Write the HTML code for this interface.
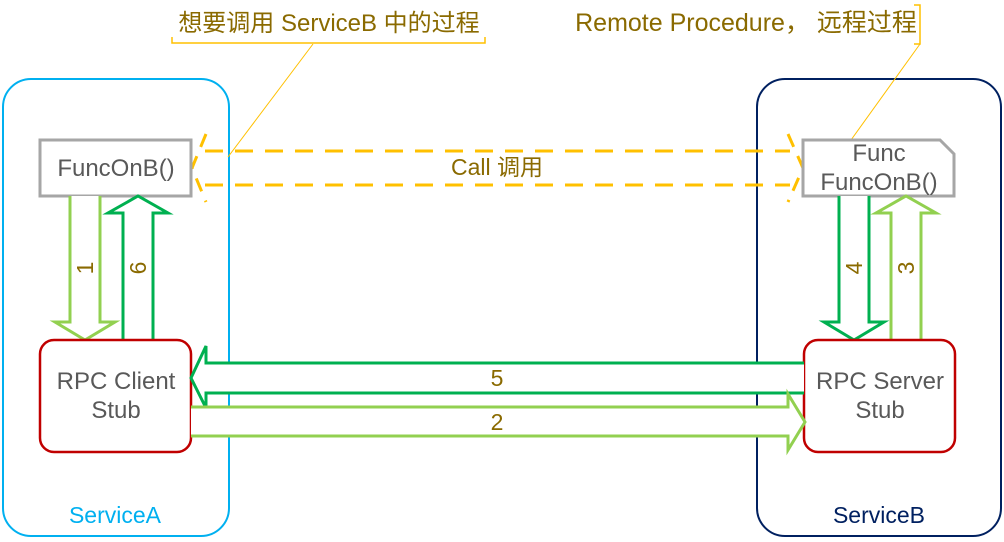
<!DOCTYPE html>
<html><head><meta charset="utf-8"><style>
html,body{margin:0;padding:0;background:#fff;}
svg{display:block;}
text{font-family:"Liberation Sans","Noto Sans CJK SC",sans-serif;}
</style></head><body>
<svg width="1004" height="542" viewBox="0 0 1004 542" xmlns="http://www.w3.org/2000/svg">
<rect x="3" y="79" width="226" height="457" rx="28" fill="none" stroke="#00b0f0" stroke-width="2"/>
<rect x="757" y="79" width="244" height="457" rx="28" fill="none" stroke="#002060" stroke-width="2"/>
<text x="115" y="523" font-size="23" fill="#00b0f0" text-anchor="middle">ServiceA</text>
<text x="879" y="523" font-size="23" fill="#002060" text-anchor="middle">ServiceB</text>

<text x="329" y="31" font-size="24" fill="#8a6a00" text-anchor="middle">想要调用 ServiceB 中的过程</text>
<path d="M172 37 V43 H485 V37" fill="none" stroke="#ffc000" stroke-width="1.5"/>
<line x1="313" y1="44" x2="228" y2="157" stroke="#ffc000" stroke-width="1"/>
<text x="746" y="31" font-size="25" fill="#8a6a00" text-anchor="middle">Remote Procedure， 远程过程</text>
<path d="M914 5 H920 V44 H914" fill="none" stroke="#ffc000" stroke-width="1.5"/>
<line x1="920" y1="44" x2="851" y2="140" stroke="#ffc000" stroke-width="1"/>

<g stroke="#ffc000" stroke-width="3" fill="none" stroke-dasharray="18 12">
<line x1="205" y1="151" x2="790" y2="151"/>
<line x1="205" y1="185" x2="790" y2="185"/>
</g>
<g stroke="#ffc000" stroke-width="3" fill="none" stroke-dasharray="14 10">
<path d="M206 134 L192 168 L206 202"/>
<path d="M788 134 L803 168 L788 202"/>
</g>
<text x="497" y="175" font-size="23" fill="#8a6a00" text-anchor="middle">Call  调用</text>

<rect x="40" y="140" width="151" height="56" fill="#fff" stroke="#a6a6a6" stroke-width="3"/>
<text x="116" y="176" font-size="24" fill="#595959" text-anchor="middle">FuncOnB()</text>
<path d="M803 140 H940 L954 154 V196 H803 Z" fill="#fff" stroke="#a6a6a6" stroke-width="3"/>
<text x="879" y="161" font-size="24" fill="#595959" text-anchor="middle">Func</text>
<text x="879" y="190" font-size="24" fill="#595959" text-anchor="middle">FuncOnB()</text>

<path d="M70 196 V322 H55 L85 340 L115 322 H100 V196" fill="#fff" stroke="#92d050" stroke-width="3"/>
<path d="M123 340 V213 H108 L138 196 L168 213 H153 V340" fill="#fff" stroke="#00b050" stroke-width="3"/>
<path d="M839 196 V322 H824 L854 340 L884 322 H869 V196" fill="#fff" stroke="#00b050" stroke-width="3"/>
<path d="M891 340 V213 H876 L906 196 L936 213 H921 V340" fill="#fff" stroke="#92d050" stroke-width="3"/>
<g font-size="23" fill="#8a6a00" text-anchor="middle">
<text transform="translate(93 268) rotate(-90)">1</text>
<text transform="translate(146 268) rotate(-90)">6</text>
<text transform="translate(862 268) rotate(-90)">4</text>
<text transform="translate(914 268) rotate(-90)">3</text>
</g>

<rect x="40" y="340" width="151" height="112" rx="14" fill="#fff" stroke="#c00000" stroke-width="2.5"/>
<text x="116" y="389" font-size="24" fill="#595959" text-anchor="middle">RPC Client</text>
<text x="116" y="418" font-size="24" fill="#595959" text-anchor="middle">Stub</text>
<rect x="804" y="340" width="151" height="112" rx="14" fill="#fff" stroke="#c00000" stroke-width="2.5"/>
<text x="880" y="389" font-size="24" fill="#595959" text-anchor="middle">RPC Server</text>
<text x="880" y="418" font-size="24" fill="#595959" text-anchor="middle">Stub</text>

<path d="M804 363 H206 V346 L191 378 L206 408 V393 H804" fill="#fff" stroke="#00b050" stroke-width="3"/>
<path d="M191 407 H788 V394 L805 422 L788 450 V436 H191" fill="#fff" stroke="#92d050" stroke-width="3"/>
<text x="497" y="386" font-size="23" fill="#8a6a00" text-anchor="middle">5</text>
<text x="497" y="430" font-size="23" fill="#8a6a00" text-anchor="middle">2</text>
</svg>
</body></html>
